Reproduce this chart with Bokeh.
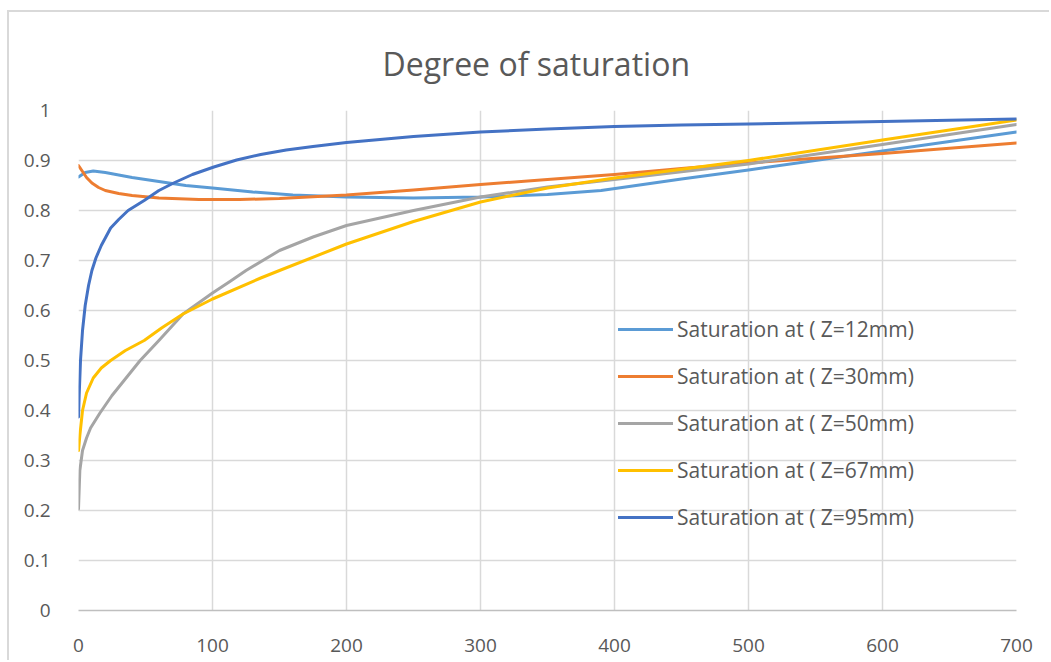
from bokeh.plotting import figure
from bokeh.models import Range1d, FixedTicker, Legend, LegendItem
from bokeh.embed import file_html
from bokeh.resources import INLINE

# Elapsed time (x) and degree of saturation (y) for each depth Z
x_z12 = [0, 5, 11, 20, 40, 60, 80, 100, 130, 160, 200, 250, 300, 350, 390, 450, 500, 600, 700]
y_z12 = [0.867, 0.876, 0.879, 0.876, 0.866, 0.858, 0.850, 0.845, 0.837, 0.831, 0.827, 0.825,
         0.827, 0.832, 0.840, 0.863, 0.881, 0.919, 0.957]

x_z30 = [0, 3, 6, 10, 15, 20, 30, 40, 60, 90, 120, 150, 200, 250, 300, 350, 400, 450, 500, 600, 700]
y_z30 = [0.890, 0.878, 0.866, 0.855, 0.846, 0.840, 0.834, 0.830, 0.825, 0.822, 0.822, 0.824,
         0.831, 0.841, 0.852, 0.862, 0.872, 0.884, 0.895, 0.914, 0.935]

x_z50 = [0, 1, 3, 6, 9, 16, 25, 34, 46, 60, 78, 100, 113, 125, 150, 175, 200, 250, 300, 350,
         400, 500, 600, 700]
y_z50 = [0.203, 0.280, 0.320, 0.345, 0.365, 0.395, 0.430, 0.460, 0.500, 0.540, 0.593, 0.635,
         0.658, 0.680, 0.720, 0.747, 0.770, 0.800, 0.827, 0.847, 0.862, 0.893, 0.932, 0.972]

x_z67 = [0, 1, 3, 6, 11, 17, 24, 35, 49, 62, 78, 100, 136, 150, 200, 250, 300, 350, 400, 500,
         600, 700]
y_z67 = [0.320, 0.350, 0.400, 0.435, 0.465, 0.485, 0.500, 0.520, 0.540, 0.565, 0.593, 0.623,
         0.665, 0.680, 0.733, 0.778, 0.817, 0.845, 0.865, 0.900, 0.941, 0.981]

x_z95 = [0, 0.5, 1.5, 3, 5, 7.5, 10, 13, 17, 24, 30, 37, 49, 60, 71, 85, 101, 118, 136, 155,
         175, 200, 250, 300, 350, 400, 450, 500, 600, 700]
y_z95 = [0.387, 0.430, 0.500, 0.560, 0.610, 0.650, 0.680, 0.705, 0.730, 0.765, 0.782, 0.800,
         0.820, 0.840, 0.855, 0.872, 0.887, 0.901, 0.912, 0.921, 0.928, 0.936, 0.948, 0.957,
         0.963, 0.968, 0.971, 0.973, 0.978, 0.983]

series_labels = ["Saturation at ( Z=12mm)", "Saturation at ( Z=30mm)", "Saturation at ( Z=50mm)",
                 "Saturation at ( Z=67mm)", "Saturation at ( Z=95mm)"]
series_colors = ["#5B9BD5", "#ED7D31", "#A5A5A5", "#FFC000", "#4472C4"]

x_ticks = [0, 100, 200, 300, 400, 500, 600, 700]
y_ticks = [0, 0.1, 0.2, 0.3, 0.4, 0.5, 0.6, 0.7, 0.8, 0.9, 1.0]

FONT = "Open Sans"
TEXT_GREY = "#595959"
GRID_GREY = "#D9D9D9"

# chart area: thin grey border on its top and left edges
p = figure(width=1042, height=650, output_backend="svg", toolbar_location=None,
           x_range=Range1d(0, 700), y_range=Range1d(0, 1),
           min_border_left=69, min_border_right=35, min_border_top=98, min_border_bottom=52,
           title="Degree of saturation")
p.styles = {"margin-left": "7px", "margin-top": "10px",
            "border-left": "2px solid #D9D9D9", "border-top": "2px solid #D9D9D9"}
p.outline_line_color = None
p.background_fill_color = "white"
p.border_fill_color = "white"

p.title.align = "left"
p.title.offset = 304
p.title.text_font = FONT
p.title.text_font_size = "32px"
p.title.text_font_style = "normal"
p.title.text_color = TEXT_GREY
p.title.standoff = 52

# grids
p.xgrid.ticker = FixedTicker(ticks=x_ticks)
p.ygrid.ticker = FixedTicker(ticks=y_ticks)
for g in (p.xgrid, p.ygrid):
    g.grid_line_color = GRID_GREY
    g.grid_line_width = 1.5

# axes
p.xaxis.ticker = FixedTicker(ticks=x_ticks)
p.yaxis.ticker = FixedTicker(ticks=y_ticks)
p.yaxis.major_label_overrides = {0: "0", 1.0: "1"}
for ax in (p.xaxis, p.yaxis):
    ax.major_tick_line_color = None
    ax.minor_tick_line_color = None
    ax.major_label_text_font = FONT
    ax.major_label_text_font_size = "19px"
    ax.major_label_text_color = TEXT_GREY
p.yaxis.axis_line_color = None
p.yaxis.major_label_standoff = 22
p.xaxis.axis_line_color = "#BFBFBF"
p.xaxis.axis_line_width = 1.5
p.xaxis.major_label_standoff = 22

# curves
xs = [x_z12, x_z30, x_z50, x_z67, x_z95]
ys = [y_z12, y_z30, y_z50, y_z67, y_z95]
items = []
for xv, yv, lab, col in zip(xs, ys, series_labels, series_colors):
    r = p.line(xv, yv, line_color=col, line_width=3, line_join="round", line_cap="round")
    items.append(LegendItem(label=lab, renderers=[r]))

legend = Legend(items=items, location=(540, 79), orientation="vertical",
                padding=0, margin=0, spacing=19, glyph_width=55, glyph_height=20,
                label_height=20, label_standoff=4,
                label_text_font=FONT, label_text_font_size="21px",
                label_text_color=TEXT_GREY,
                background_fill_alpha=0, border_line_alpha=0)
p.add_layout(legend, "center")

open("out.html", "w").write(file_html(p, INLINE))
